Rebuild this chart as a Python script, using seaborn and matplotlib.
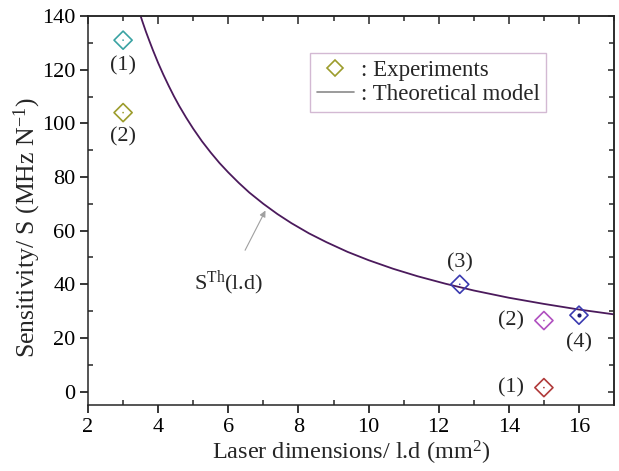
import numpy as np
import pandas as pd
import matplotlib
matplotlib.use("Agg")
import matplotlib.pyplot as plt
from matplotlib.lines import Line2D
from matplotlib.ticker import MultipleLocator
import seaborn as sns

# Datos
exp_x = [3.0, 3.0, 12.6, 15.0, 16.0, 15.0]
exp_y = [131.0, 104.0, 40.0, 26.5, 28.5, 1.5]
exp_id = ["a1", "a2", "b3", "b2", "b4", "b1"]
exp_colores = ["#3aa3a3", "#9c9c2c", "#3a3ab0", "#b050c0", "#3a3ab0", "#b03a3a"]
exp_etiquetas = ["(1)", "(2)", "(3)", "(2)", "(4)", "(1)"]
etiq_x = [3.0, 3.0, 12.6, 14.05, 16.0, 14.05]
etiq_y = [121.5, 95.0, 48.0, 26.3, 18.3, 1.5]

teo_x = [3.45, 3.55, 3.65, 3.75, 3.85, 4.0, 4.15, 4.3, 4.45, 4.6, 4.8, 5.0,
         5.25, 5.5, 5.75, 6.0, 6.3, 6.6, 7.0, 7.4, 7.8, 8.3, 8.8, 9.4, 10.0,
         10.7, 11.4, 12.2, 13.0, 14.0, 15.0, 16.0, 17.0]
teo_y = [142.0, 138.0, 134.2, 130.7, 127.3, 122.5, 118.1, 114.0, 110.1, 106.5,
         102.1, 98.0, 93.3, 89.1, 85.2, 81.7, 77.8, 74.2, 70.0, 66.2, 62.8,
         59.0, 55.7, 52.1, 49.0, 45.8, 43.0, 40.2, 37.7, 35.0, 32.7, 30.6, 28.8]

df_exp = pd.DataFrame({"x": exp_x, "y": exp_y, "id": exp_id})
df_teo = pd.DataFrame({"x": teo_x, "y": teo_y})

sns.set_style("ticks")
plt.rcParams["font.family"] = ["Liberation Serif", "DejaVu Serif"]
plt.rcParams["mathtext.default"] = "regular"
plt.rcParams["axes.linewidth"] = 1.1

fig = plt.figure(figsize=(6.19, 4.71), dpi=100)
ax = fig.add_axes([0.1422, 0.140, 0.8498, 0.826])

# Curva teorica
sns.lineplot(data=df_teo, x="x", y="y", ax=ax, color="#4b1a5c", linewidth=1.3,
             legend=False)

# Puntos experimentales (diamantes vacios)
sns.scatterplot(data=df_exp, x="x", y="y", hue="id", palette=exp_colores,
                marker="D", s=85, ax=ax, legend=False, zorder=3)
pts = ax.collections[-1]
pts.set_edgecolors(pts.get_facecolors())
pts.set_facecolors("none")
pts.set_linewidths(1.2)

# punto central de cada marcador
sns.scatterplot(data=df_exp, x="x", y="y", hue="id", palette=exp_colores,
                marker="o", s=1.5, ax=ax, legend=False, linewidth=0, zorder=4)
sns.scatterplot(x=[exp_x[4]], y=[exp_y[4]], color="#1a1a70", marker="o", s=9,
                ax=ax, legend=False, linewidth=0, zorder=4)

for tx, ty, t in zip(etiq_x, etiq_y, exp_etiquetas):
    ax.text(tx, ty, t, ha="center", va="center", fontsize=16)

ax.annotate(r"S$^{\mathregular{Th}}$(l.d)", xy=(7.06, 67.5), xytext=(6.0, 40.5),
            ha="center", va="center", fontsize=16,
            arrowprops=dict(arrowstyle="-|>", color="#a0a0a0", lw=0.8,
                            mutation_scale=9, shrinkA=12, shrinkB=0))

ax.set_xlim(2, 17)
ax.set_ylim(-5, 140)
ax.xaxis.set_major_locator(MultipleLocator(2))
ax.xaxis.set_minor_locator(MultipleLocator(1))
ax.yaxis.set_major_locator(MultipleLocator(20))
ax.yaxis.set_minor_locator(MultipleLocator(10))
ax.tick_params(which="major", direction="out", length=6, width=1.1,
               labelsize=16, colors="black", pad=3)
ax.tick_params(which="minor", direction="in", length=3.5, width=1.1)
ax.set_xlabel(r"Laser dimensions/ l.d (mm$^{2}$)", fontsize=17.5, labelpad=2)
ax.set_ylabel(r"Sensitivity/ S (MHz N$^{-1}$)", fontsize=18.5)
ax.yaxis.set_label_coords(-0.085, 0.455)

for lado in ["top", "right"]:
    ax.spines[lado].set_visible(True)

# ejes espejo arriba y a la derecha, marcas hacia dentro
sec_x = ax.secondary_xaxis("top")
sec_x.xaxis.set_major_locator(MultipleLocator(2))
sec_x.xaxis.set_minor_locator(MultipleLocator(1))
sec_x.tick_params(which="major", direction="in", length=6, width=1.1, labeltop=False)
sec_x.tick_params(which="minor", direction="in", length=3.5, width=1.1)
sec_y = ax.secondary_yaxis("right")
sec_y.yaxis.set_major_locator(MultipleLocator(20))
sec_y.yaxis.set_minor_locator(MultipleLocator(10))
sec_y.tick_params(which="major", direction="in", length=4, width=1.1, labelright=False)
sec_y.tick_params(which="minor", direction="in", length=3.5, width=1.1)

manejadores = [
    Line2D([], [], marker="D", linestyle="none", markerfacecolor="none",
           markeredgecolor="#9c9c2c", markersize=8.5, markeredgewidth=1.2),
    Line2D([], [], color="#8a8a8a", linewidth=1.2),
]
leg = ax.legend(manejadores, [": Experiments", ": Theoretical model"],
                loc="upper right", bbox_to_anchor=(0.893, 0.935), fontsize=16.5,
                frameon=True, fancybox=False, handlelength=1.6,
                handletextpad=0.3, borderpad=0.3, labelspacing=0.15)
leg.get_frame().set_edgecolor("#c8a8c8")
leg.get_frame().set_linewidth(1.0)

fig.savefig("out.png", dpi=100)
plt.close(fig)
